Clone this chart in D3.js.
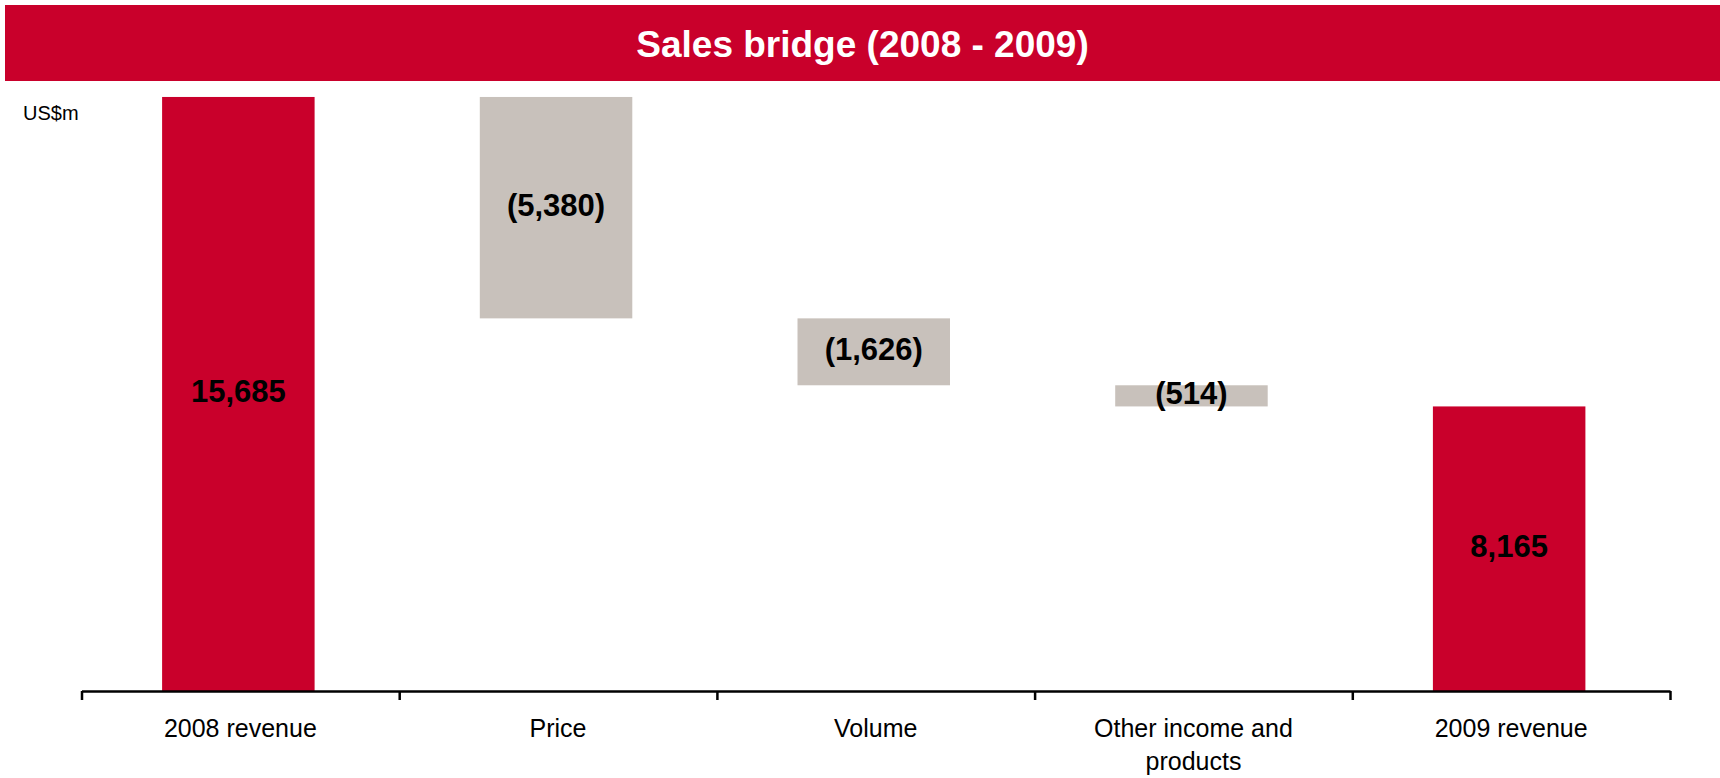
<!DOCTYPE html>
<html>

<head>
    <meta charset="utf-8">
    <script src="https://d3js.org/d3.v7.min.js"></script>
    <style type="text/css">
        body {
            margin: 0;
            background: white;
        }

        text {
            font-family: "Liberation Sans", Arial, sans-serif;
        }

        .title {
            font-size: 37px;
            font-weight: bold;
            fill: white;
        }

        .unit {
            font-size: 20px;
            fill: black;
        }

        .cat {
            font-size: 25px;
            fill: black;
        }

        .val {
            font-size: 31px;
            font-weight: bold;
            fill: black;
        }
    </style>
</head>

<body>
    <div id="bridge"></div>
    <script>

        // data
        const categories = ["2008 revenue", "Price", "Volume", "Other income and products", "2009 revenue"];
        const values = [15685, -5380, -1626, -514, 8165];
        const kinds = ["total", "delta", "delta", "delta", "total"];
        const valueLabels = ["15,685", "(5,380)", "(1,626)", "(514)", "8,165"];

        const W = 1720, H = 778;
        const red = "#c9002b", grey = "#c8c1bb";

        // the value axis of the original does not start at zero
        const yFloor = 1250;

        const svg = d3.select("#bridge")
            .append("svg")
            .attr("width", W)
            .attr("height", H);

        // title band
        svg.append("rect")
            .attr("x", 5)
            .attr("y", 5)
            .attr("width", W - 5)
            .attr("height", 76)
            .attr("fill", red);
        svg.append("text")
            .attr("class", "title")
            .attr("x", (W + 5) / 2)
            .attr("y", 44)
            .attr("text-anchor", "middle")
            .attr("dominant-baseline", "central")
            .text("Sales bridge (2008 - 2009)");

        svg.append("text")
            .attr("class", "unit")
            .attr("x", 23)
            .attr("y", 120)
            .text("US$m");

        // running totals for the waterfall
        let run = 0;
        const bars = categories.map((c, i) => {
            let start, end;
            if (kinds[i] === "total") {
                start = yFloor;
                end = values[i];
                run = values[i];
            } else {
                start = run;
                end = run + values[i];
                run = end;
            }
            return { cat: c, start: start, end: end, kind: kinds[i], label: valueLabels[i] };
        });

        const x = d3.scaleBand()
            .domain(categories)
            .range([81.5, 1670])
            .padding(0);

        const y = d3.scaleLinear()
            .domain([yFloor, 16000])
            .range([691, 84]);

        const barW = x.bandwidth() * 0.48;

        svg.selectAll(".bar")
            .data(bars)
            .join("rect")
            .attr("class", "bar")
            .attr("x", d => x(d.cat) + (x.bandwidth() - barW) / 2 - 2)
            .attr("width", barW)
            .attr("y", d => y(Math.max(d.start, d.end)))
            .attr("height", d => Math.abs(y(d.start) - y(d.end)))
            .attr("fill", d => d.kind === "total" ? red : grey);

        svg.selectAll(".val")
            .data(bars)
            .join("text")
            .attr("class", "val")
            .attr("x", d => x(d.cat) + x.bandwidth() / 2 - 2)
            .attr("y", d => (y(d.start) + y(d.end)) / 2 - 2)
            .attr("text-anchor", "middle")
            .attr("dominant-baseline", "central")
            .text(d => d.label);

        // category axis: ticks sit between the categories
        const edges = d3.scaleLinear()
            .domain([0, categories.length])
            .range(x.range());

        const axis = svg.append("g")
            .attr("transform", `translate(0, ${y(yFloor)})`)
            .call(d3.axisBottom(edges)
                .tickValues(d3.range(categories.length + 1))
                .tickFormat("")
                .tickSize(9)
                .tickSizeOuter(0));
        axis.selectAll("path, line")
            .attr("stroke", "black")
            .attr("stroke-width", 2.5);

        const labels = svg.selectAll(".cat")
            .data(categories)
            .join("text")
            .attr("class", "cat")
            .attr("x", d => x(d) + x.bandwidth() / 2)
            .attr("y", 737)
            .attr("text-anchor", "middle")
            .text(d => d);

        // wrap long category names like the original
        labels.each(function (d) {
            const t = d3.select(this);
            const words = d.split(" ");
            const maxW = 230;
            let line = [];
            let tspan = t.text(null).append("tspan").attr("x", t.attr("x"));
            words.forEach(w => {
                line.push(w);
                tspan.text(line.join(" "));
                if (tspan.node().getComputedTextLength() > maxW && line.length > 1) {
                    line.pop();
                    tspan.text(line.join(" "));
                    line = [w];
                    tspan = t.append("tspan")
                        .attr("x", t.attr("x"))
                        .attr("dy", 33)
                        .text(w);
                }
            });
        });

    </script>
</body>

</html>
